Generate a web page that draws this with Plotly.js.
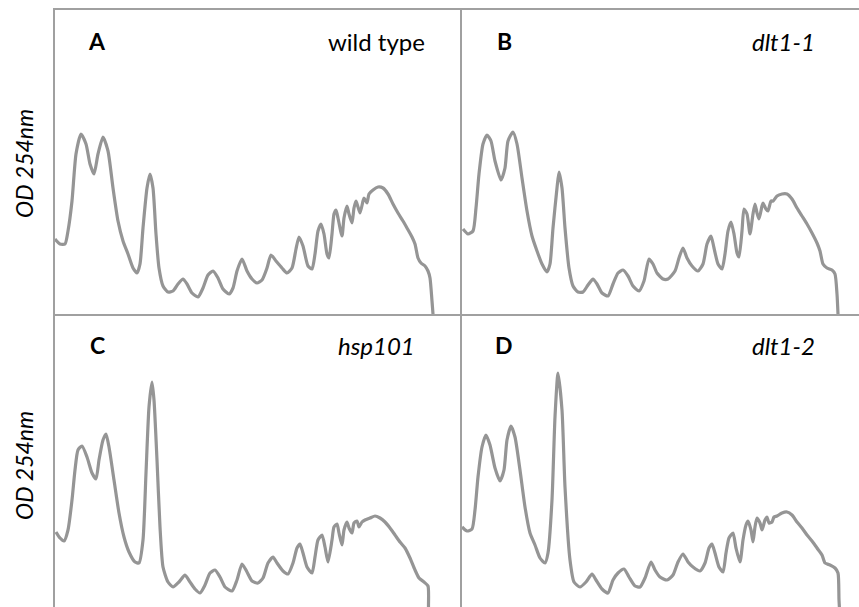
<!DOCTYPE html>
<html>
<head>
<meta charset="utf-8">
<script src="https://cdn.plot.ly/plotly-3.0.1.min.js"></script>
<style>html,body{margin:0;padding:0;background:#fff;}#chart{width:859px;height:607px;}</style>
</head>
<body>
<div id="chart"></div>
<script>
// Gradient position (arbitrary units from top of gradient) and OD 254nm (relative units)
const wtX = [0,5,10,13,17,21,26,31,35,39,43,48,53,58,63,68,73,78,82,85,88,92,95,98,101,104,108,113,118,123,128,132,137,143,148,153,158,163,168,174,178,182,187,192,197,202,207,212,216,221,227,232,237,241,244,248,253,257,260,263,266,269,272,274,277,279,281,283,287,289,292,294,297,299,301,303,305,308,309,312,314,318,323,328,333,338,343,348,352,357,360,363,366,370,373,375,377,378];
const wtY = [75,70,70,83,113,160,180,170,150,140,160,177,163,126,93,73,60,46,41,50,86,126,140,126,80,46,28,22,23,30,35,30,21,17,26,39,43,36,25,20,26,43,55,43,35,31,34,46,59,53,46,41,46,65,77,68,48,45,60,83,90,80,60,56,80,100,104,96,78,96,108,100,91,106,113,107,101,113,116,111,120,124,127,126,120,110,101,93,86,77,70,56,51,48,43,36,13,0];

const dlt11X = [1,6,11,14,17,21,25,29,33,39,43,46,51,55,60,65,70,75,80,85,88,91,95,97,100,103,107,111,116,121,126,131,135,140,146,151,156,161,166,171,177,182,187,191,195,201,206,213,217,221,225,230,236,241,245,249,252,256,260,263,266,269,272,275,277,280,282,285,288,291,293,295,297,300,301,304,306,309,311,315,320,325,330,335,340,345,350,355,358,361,365,370,373,375,376];
const dlt11Y = [85,80,83,106,140,170,179,173,153,134,146,173,182,170,136,103,78,63,50,42,50,86,126,142,126,86,46,28,22,22,29,35,30,21,18,30,41,44,38,28,23,33,55,50,41,35,35,43,56,66,56,48,43,50,70,78,66,50,45,60,83,92,80,61,57,83,105,100,80,100,110,101,95,108,111,105,103,113,113,118,120,120,115,106,98,90,81,71,63,50,46,44,40,20,0];

const hspX = [1,5,9,13,17,20,23,27,32,37,41,44,48,51,54,59,64,69,74,80,84,88,91,94,97,99,102,105,108,113,118,124,130,135,140,145,150,155,160,165,170,177,182,187,192,197,203,208,213,218,222,228,233,238,242,245,248,252,257,260,263,267,270,273,277,279,282,284,287,289,292,294,297,299,302,304,307,310,315,320,325,330,335,340,345,350,355,360,364,369,373,373.5,374];
const hspY = [86,80,77,88,118,148,168,172,161,145,139,158,178,184,171,138,105,81,66,56,55,78,145,211,236,218,158,91,51,36,31,36,43,36,29,25,33,45,48,41,31,27,38,54,46,37,35,40,55,61,55,47,44,55,70,74,65,51,45,61,78,83,71,56,78,91,94,85,73,88,96,90,85,95,97,91,96,98,100,102,100,96,90,83,76,70,60,48,40,36,32,11,0];

const dlt12X = [0,5,10,13,16,20,24,28,33,38,42,45,49,53,58,63,68,73,78,83,86,90,93,96,100,103,108,112,118,124,130,134,140,146,151,156,162,167,173,178,183,189,193,198,205,211,216,221,226,231,238,243,247,250,253,257,261,264,267,271,274,278,281,284,286,289,291,293,295,298,300,303,305,307,310,312,315,320,325,330,335,340,345,350,355,360,363,368,373,376,377,378];
const dlt12Y = [91,87,89,108,141,171,183,173,150,137,148,178,192,181,148,111,85,73,60,55,65,118,201,245,208,131,58,36,31,36,44,38,29,25,38,45,49,41,32,31,40,56,48,41,38,43,56,64,56,51,47,55,70,74,65,51,46,65,80,85,70,56,78,93,97,88,76,91,100,95,88,98,101,95,96,101,102,105,106,103,96,90,83,77,70,63,55,53,50,45,18,0];

const panels = [
  {x: wtX, y: wtY, letter: 'A', name: 'wild type', italic: false},
  {x: dlt11X, y: dlt11Y, letter: 'B', name: 'dlt1-1', italic: true},
  {x: hspX, y: hspY, letter: 'C', name: 'hsp101', italic: true},
  {x: dlt12X, y: dlt12Y, letter: 'D', name: 'dlt1-2', italic: true}
];

const W = 859, H = 607;
const lineCol = '#a0a0a0';
const traceCol = '#959595';
const font = 'Lato, "Open Sans", sans-serif';

const traces = panels.map((p, i) => ({
  type: 'scatter', mode: 'lines', x: p.x, y: p.y,
  xaxis: i === 0 ? 'x' : 'x' + (i + 1), yaxis: i === 0 ? 'y' : 'y' + (i + 1),
  line: {color: traceCol, width: 3.2, shape: 'spline', smoothing: 0.6},
  hoverinfo: 'skip', showlegend: false, cliponaxis: true
}));

// panel geometry in pixels
const leftPx = [55, 462];
const panelW = 407;
const topPx = [10, 314];
const panelH = 304;

const layout = {
  width: W, height: H,
  margin: {l: 0, r: 0, t: 0, b: 0},
  paper_bgcolor: '#fff', plot_bgcolor: 'rgba(0,0,0,0)',
  showlegend: false,
  annotations: [],
  font: {family: font, color: '#000'}
};

panels.forEach((p, i) => {
  const col = i % 2, row = Math.floor(i / 2);
  const x0 = leftPx[col], x1 = Math.min(W, x0 + panelW);
  const yTop = topPx[row], yBot = Math.min(H, yTop + panelH);
  const xa = i === 0 ? 'xaxis' : 'xaxis' + (i + 1);
  const ya = i === 0 ? 'yaxis' : 'yaxis' + (i + 1);
  const xr = i === 0 ? 'x' : 'x' + (i + 1);
  const yr = i === 0 ? 'y' : 'y' + (i + 1);
  layout[xa] = {
    domain: [x0 / W, x1 / W], range: [0, x1 - x0], anchor: yr,
    showgrid: false, zeroline: false, showticklabels: false, ticks: '',
    showline: row === 0, mirror: row === 0, linecolor: lineCol, linewidth: 2, fixedrange: true
  };
  layout[ya] = {
    domain: [(H - yBot) / H, (H - yTop) / H], range: [(yTop + panelH) - yBot, panelH], anchor: xr,
    showgrid: false, zeroline: false, showticklabels: false, ticks: '',
    showline: true, mirror: false, linecolor: lineCol, linewidth: 2, fixedrange: true
  };
  layout.annotations.push({
    xref: xr, yref: yr, x: 42, y: panelH - 31, text: '<b>' + p.letter + '</b>',
    showarrow: false, xanchor: 'center', yanchor: 'middle', font: {family: font, size: 23, color: '#000'}
  });
  layout.annotations.push({
    xref: xr, yref: yr, x: 321, y: panelH - 31, text: p.italic ? '<i>' + p.name + '</i>' : p.name,
    showarrow: false, xanchor: 'center', yanchor: 'middle', font: {family: font, size: 24, color: '#000'}
  });
  if (col === 0) {
    layout.annotations.push({
      xref: 'paper', yref: yr, x: 24 / W, xanchor: 'center', y: row === 0 ? 150 : 152, yanchor: 'middle',
      text: '<i>OD 254nm</i>', textangle: -90, showarrow: false,
      font: {family: font, size: 23, color: '#000'}
    });
  }
});

Plotly.newPlot('chart', traces, layout, {staticPlot: true, displayModeBar: false});
</script>
</body>
</html>
